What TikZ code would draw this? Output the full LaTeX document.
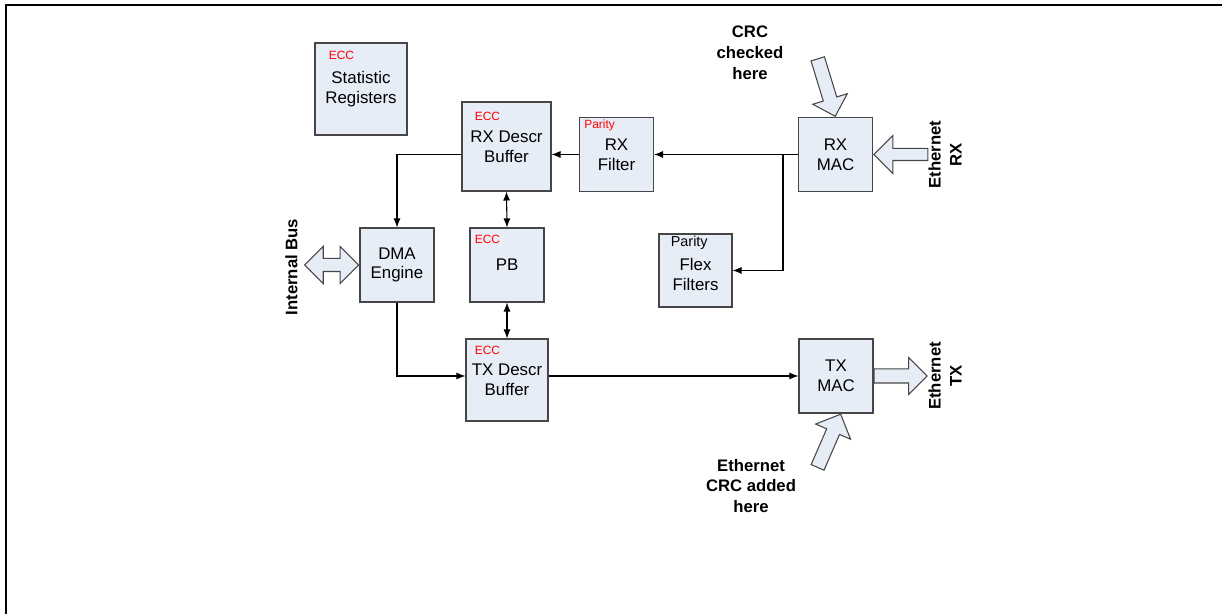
\documentclass[tikz,border=0pt]{standalone}
\usepackage{fontspec}
\setmainfont{Liberation Sans}
\usetikzlibrary{positioning,arrows.meta,shapes.arrows}
\definecolor{boxfill}{RGB}{231,237,247}
\definecolor{edge}{RGB}{70,70,70}

\begin{document}
\begin{tikzpicture}[
  box/.style={draw=edge, fill=boxfill, line width=0.6pt, minimum size=1.48cm, inner sep=0pt, align=center, font=\fontsize{9.6}{11.2}\selectfont},
  tag/.style={anchor=west, inner sep=0pt, text=red, font=\fontsize{6.8}{8}\selectfont},
  lbl/.style={align=center, inner sep=0pt, font=\fontsize{9.5}{11.9}\selectfont\bfseries},
  arr/.style={-{Latex[length=1.8mm,width=1.4mm]}, line width=0.6pt},
  dbl/.style={{Latex[length=1.8mm,width=1.4mm]}-{Latex[length=1.8mm,width=1.4mm]}, line width=0.6pt},
  blk/.style={single arrow, draw=edge, fill=boxfill, line width=0.6pt, inner xsep=0pt, inner ysep=0.13cm, minimum height=1.08cm, single arrow head extend=0.23cm}
]
  \useasboundingbox (0,0) rectangle (24.44,12.28);
  \draw[line width=1.1pt] (0.12,0) -- (0.12,12.18) -- (24.44,12.18);

  % blocks
  \node[box, minimum size=1.84cm] (stat) at (7.22,10.50) {Statistic\\Registers};
  \node[box, minimum size=1.78cm] (rxd) at (10.13,9.35) {RX Descr\\Buffer};
  \node[box] (rxf) at (12.33,9.19) {RX\\Filter};
  \node[box] (rxmac) at (16.71,9.19) {RX\\MAC};
  \node[box, minimum size=1.46cm] (flex) at (13.91,6.87) {\\Flex\\Filters};
  \node[box] (dma) at (7.94,6.98) {DMA\\Engine};
  \node[box] (pb) at (10.14,6.98) {PB};
  \node[box, minimum size=1.64cm] (txd) at (10.14,4.68) {TX Descr\\Buffer};
  \node[box] (txmac) at (16.72,4.76) {TX\\MAC};

  \node[tag] (stattag) at ([xshift=0.28cm,yshift=-0.26cm]stat.north west) {ECC};
  \node[tag] (rxdtag) at ([xshift=0.26cm,yshift=-0.30cm]rxd.north west) {ECC};
  \node[tag] (pbtag) at ([xshift=0.10cm,yshift=-0.24cm]pb.north west) {ECC};
  \node[tag] (txdtag) at ([xshift=0.18cm,yshift=-0.24cm]txd.north west) {ECC};
  \node[tag] (rxftag) at ([xshift=0.10cm,yshift=-0.16cm]rxf.north west) {Parity};
  \node[tag, text=black, font=\fontsize{8.2}{9}\selectfont] (flextag) at ([xshift=0.24cm,yshift=-0.18cm]flex.north west) {Parity};

  % data paths
  \coordinate (br) at (15.66,9.19);
  \draw[arr] (rxmac.west) -- (rxf.east);
  \draw[arr] (br) |- (flex.east);
  \draw[arr] (rxf.west) -- (rxd.east |- rxf.west);
  \draw[arr] (rxd.west |- rxf.west) -| (dma.north);
  \draw[dbl] (rxd.south) -- (pb.north);
  \draw[dbl] (pb.south) -- (txd.north);
  \draw[arr] (dma.south) |- (txd.west |- txmac.west);
  \draw[arr] (txd.east |- txmac.west) -- (txmac.west);

  % block arrows
  \node[blk, rotate=180, inner ysep=0.11cm, single arrow head extend=0.26cm, anchor=tip] (ethrx) at (rxmac.east) {};
  \node[blk, minimum height=1.06cm, anchor=tail] (ethtx) at (txmac.east) {};
  \node[blk, rotate=-73, minimum height=1.2cm, single arrow head extend=0.22cm, anchor=tip] (crcchk) at (rxmac.north) {};
  \node[blk, rotate=66.5, minimum height=1.16cm, single arrow head extend=0.24cm, anchor=tip] (crcadd) at ([xshift=0.1cm]txmac.south) {};
  \node[double arrow, draw=edge, fill=boxfill, line width=0.6pt, inner xsep=0pt, inner ysep=0.12cm, minimum height=1.08cm, double arrow head extend=0.24cm, left=0pt of dma] (bus) {};

  % labels
  \node[lbl] (crcchklbl) at (15.00,11.22) {CRC\\checked\\here};
  \node[lbl] (crcaddlbl) at (15.02,2.56) {Ethernet\\CRC added\\here};
  \node[lbl, rotate=90] (ethrxlbl) at (18.90,9.19) {Ethernet\\RX};
  \node[lbl, rotate=90] (ethtxlbl) at (18.90,4.76) {Ethernet\\TX};
  \node[lbl, rotate=90] (buslbl) at (5.83,6.94) {Internal Bus};
\end{tikzpicture}
\end{document}
